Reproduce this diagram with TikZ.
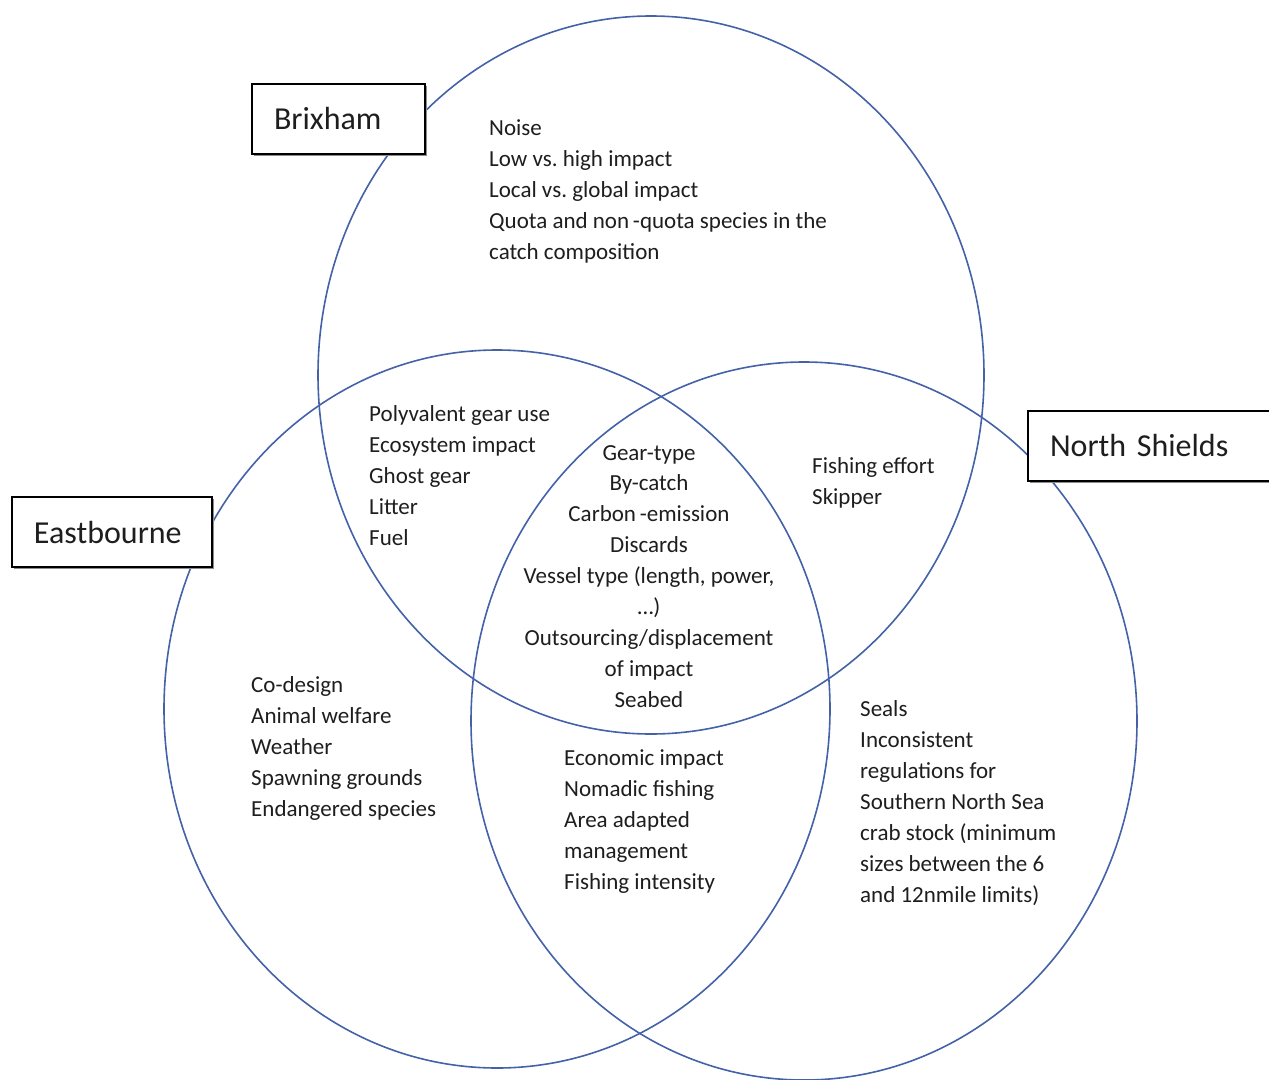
\documentclass[tikz,border=0pt]{standalone}
\usepackage{fontspec}
\setmainfont{Carlito}
\frenchspacing
\usetikzlibrary{shapes.geometric,shadows}
\definecolor{vennblue}{RGB}{68,98,168}
\definecolor{txt}{RGB}{30,30,30}
\begin{document}
\frenchspacing
\begin{tikzpicture}[x=1pt,y=-1pt,
  venn/.style={ellipse, draw=vennblue, line width=1.6pt, minimum width=666pt, minimum height=718pt, inner sep=0pt},
  lbl/.style={draw=black, fill=white, line width=2pt, minimum height=70pt, anchor=north west, inner ysep=0pt, inner xsep=22pt, align=left,
    font=\fontsize{32}{38}\selectfont, text=txt,
    drop shadow={shadow xshift=2pt, shadow yshift=-2pt, fill=black!45, opacity=1}},
  item/.style={anchor=base west, inner sep=0pt, font=\fontsize{23}{31}\selectfont, text=txt},
  citem/.style={anchor=base, inner sep=0pt, font=\fontsize{23}{31}\selectfont, text=txt}]
\useasboundingbox (0,0) rectangle (1269,1079);
\fill[white] (0,0) rectangle (1269,1079);
% circles
\node[venn] (cbrix) at (651,375) {};
\node[venn] (ceast) at (497,709) {};
\node[venn] (cnorth) at (804,721) {};
% labels
\node[lbl, text width=129pt] (brix) at (251,83) {Brixham};
\node[lbl, text width=156pt] (east) at (11,496) {Eastbourne};
\node[lbl, text width=220pt] (north) at (1027,410) {North Shields};
% texts
\foreach \t [count=\i] in {Noise, Low vs. high impact, Local vs. global impact, Quota and non\,-quota species in the, catch composition}
  \node[item] (tb\i) at (489,{135+31*(\i-1)}) {\t};
\foreach \t [count=\i] in {Polyvalent gear use, Ecosystem impact, Ghost gear, Litter, Fuel}
  \node[item] (tbe\i) at (369,{421+31*(\i-1)}) {\t};
\foreach \t [count=\i] in {Gear-type, By-catch, Carbon\,-emission, Discards, {Vessel type (length, power,}, {\ldots)}, Outsourcing/displacement, of impact, Seabed}
  \node[citem] (tall\i) at (649,{460+30.9*(\i-1)}) {\t};
\foreach \t [count=\i] in {Fishing effort, Skipper}
  \node[item] (tbn\i) at (812,{473+31*(\i-1)}) {\t};
\foreach \t [count=\i] in {Co-design, Animal welfare, Weather, Spawning grounds, Endangered species}
  \node[item] (te\i) at (251,{692+31*(\i-1)}) {\t};
\foreach \t [count=\i] in {Economic impact, Nomadic fishing, Area adapted, management, Fishing intensity}
  \node[item] (ten\i) at (564,{765+31*(\i-1)}) {\t};
\foreach \t [count=\i] in {Seals, Inconsistent, regulations for, Southern North Sea, crab stock (minimum, sizes between the 6, and 12nmile limits)}
  \node[item] (tn\i) at (860,{716+31*(\i-1)}) {\t};
\end{tikzpicture}
\end{document}
